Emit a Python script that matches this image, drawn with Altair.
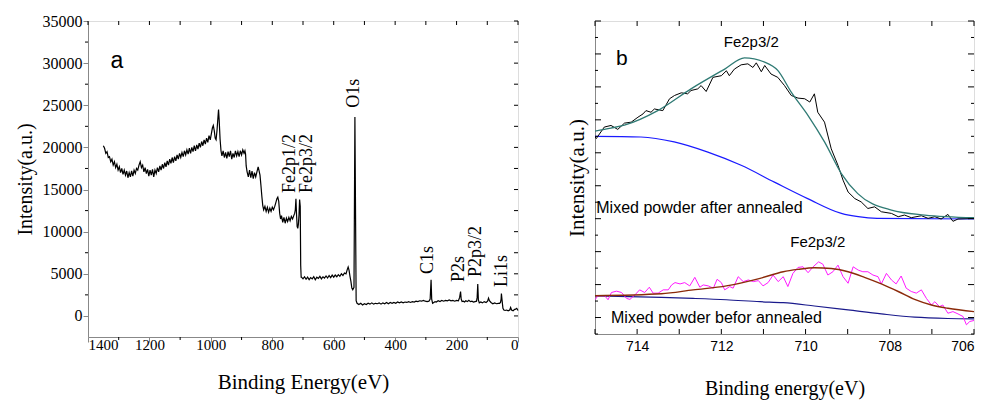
import altair as alt
import pandas as pd

# ---------------- Panel a: XPS survey spectrum ----------------
survey_energy = [
    1350, 1346, 1342, 1338, 1334, 1330, 1326, 1322, 1318, 1314, 1310, 1306, 1302, 1298, 1294, 1290,
    1286, 1282, 1278, 1274, 1270, 1266, 1262, 1258, 1254, 1250, 1246, 1242, 1238, 1234, 1230, 1226,
    1222, 1218, 1214, 1210, 1206, 1202, 1198, 1194, 1190, 1186, 1182, 1178, 1174, 1170, 1166, 1162,
    1158, 1154, 1150, 1146, 1142, 1138, 1134, 1130, 1126, 1122, 1118, 1114, 1110, 1106, 1102, 1098,
    1094, 1090, 1086, 1082, 1078, 1074, 1070, 1066, 1062, 1058, 1054, 1050, 1046, 1042, 1038, 1034,
    1030, 1026, 1022, 1018, 1014, 1010, 1006, 1002, 998, 995, 992, 989, 986, 983, 980, 977,
    975, 973, 970, 967, 964, 960, 956, 952, 948, 944, 940, 936, 932, 928, 924, 920,
    916, 912, 908, 904, 900, 896, 892, 889, 887, 885, 882, 878, 874, 870, 866, 862,
    858, 854, 850, 846, 843, 840, 837, 834, 831, 828, 824, 820, 816, 812, 808, 804,
    800, 796, 792, 788, 785, 782, 779, 776, 773, 770, 766, 762, 758, 754, 750, 746,
    742, 738, 734, 730, 727, 725, 723, 721, 719, 717, 715, 713, 711, 709, 707.5, 706,
    705, 700, 695, 690, 685, 680, 675, 670, 665, 660, 655, 650, 645, 640, 635, 630,
    625, 620, 615, 610, 605, 600, 595, 590, 585, 580, 575, 570, 565, 560, 556, 553,
    550, 547, 544, 541, 538, 535, 534, 531, 527, 524, 518, 512, 506, 500, 494, 488,
    482, 476, 470, 464, 458, 452, 446, 440, 434, 428, 422, 416, 410, 404, 398, 392,
    386, 380, 374, 368, 362, 356, 350, 344, 338, 332, 326, 320, 314, 308, 302, 296,
    290, 286, 283, 281, 278, 274, 270, 266, 260, 254, 248, 242, 236, 230, 224, 218,
    212, 206, 200, 194, 190, 187, 185, 182, 178, 174, 170, 165, 160, 155, 150, 145,
    140, 135, 133, 131, 129, 126, 121, 116, 110, 104, 99, 96, 93, 88, 82, 76,
    70, 64, 60, 57, 55, 54, 52, 49, 46, 42, 37, 32, 27, 24, 21, 16,
    12, 8, 4, 0,
]
survey_counts = [
    20200, 19900, 19300, 19500, 18800, 18900, 18300, 18600, 17900, 18300, 17600, 18000, 17300, 17700, 17000, 17500,
    16800, 17300, 16700, 17200, 16400, 17000, 16500, 17200, 16600, 17300, 16900, 17500, 17300, 17900, 18300, 17600,
    17900, 17100, 17600, 16900, 17400, 16600, 17300, 16700, 17400, 16500, 17300, 16900, 17600, 17100, 17800, 17300,
    18000, 17500, 18200, 17700, 18400, 17900, 18600, 18100, 18800, 18200, 18900, 18400, 19100, 18600, 19300, 18800,
    19400, 18900, 19600, 19100, 19700, 19200, 19900, 19300, 20000, 19500, 20200, 19600, 20300, 19800, 20500, 20000,
    20700, 20200, 20900, 20400, 21100, 20600, 21400, 20900, 21700, 22300, 22600, 22000, 21100, 20900, 22000, 23500,
    24500, 23300, 21000, 19600, 19000, 19600, 18800, 19400, 18700, 19500, 18900, 19600, 18600, 19300, 18800, 19600,
    19000, 19500, 18900, 19600, 19100, 19700, 19300, 19600, 19200, 17800, 17100, 16500, 17300, 16400, 17200, 16300,
    17000, 16500, 17100, 17700, 17200, 16700, 15500, 14200, 13100, 12600, 13000, 12400, 12900, 12300, 12800, 12400,
    12900, 12600, 13000, 13500, 13900, 14100, 13600, 12200, 11500, 11900, 11100, 11700, 11000, 11600, 11200, 11700,
    11300, 11800, 11500, 11900, 12200, 12600, 13900, 12000, 10600, 10400, 10900, 12000, 13800, 13000, 6000, 4600,
    4600, 4400, 4650, 4350, 4600, 4300, 4550, 4400, 4650, 4300, 4600, 4450, 4700, 4400, 4650, 4500,
    4750, 4500, 4800, 4550, 4850, 4600, 4850, 4650, 4900, 4700, 5000, 4800, 5100, 5000, 5500, 5800,
    5400, 4700, 4100, 3300, 3100, 3300, 3400, 23600, 1800, 1500, 1350, 1500, 1300, 1450, 1350, 1500,
    1400, 1550, 1400, 1500, 1450, 1550, 1400, 1550, 1450, 1600, 1450, 1600, 1500, 1600, 1500, 1650,
    1550, 1650, 1550, 1650, 1600, 1700, 1600, 1700, 1650, 1750, 1700, 1800, 1750, 1850, 1750, 1700,
    1750, 2000, 4300, 2000, 1500, 1600, 1700, 1650, 1800, 1700, 1850, 1750, 1850, 1800, 1900, 1800,
    1850, 1750, 1850, 1800, 2200, 2900, 2000, 1700, 1750, 1650, 1800, 1700, 1850, 1700, 1750, 1650,
    1700, 1750, 2200, 3800, 1900, 1550, 1650, 1550, 1700, 1600, 1750, 2100, 1800, 1600, 1450, 1550,
    1450, 1500, 1500, 1600, 2000, 2650, 1900, 900, 700, 650, 700, 600, 700, 1000, 700, 600,
    750, 800, 900, 650,
]

a_peak_labels = ["Fe2p1/2", "Fe2p3/2", "O1s", "C1s", "P2s", "P2p3/2", "Li1s"]
a_peak_label_energy = [741.8, 686.5, 533.6, 292.8, 192, 136.7, 52]
a_peak_label_counts = [14590, 14590, 24700, 4980, 4030, 4630, 3440]

a_x_major = [1400, 1200, 1000, 800, 600, 400, 200, 0]
a_x_minor = [1300, 1100, 900, 700, 500, 300, 100]
a_x_all = [1400, 1300, 1200, 1100, 1000, 900, 800, 700, 600, 500, 400, 300, 200, 100, 0]
a_y_major = [0, 5000, 10000, 15000, 20000, 25000, 30000, 35000]
a_y_minor = [2500, 7500, 12500, 17500, 22500, 27500, 32500]
a_y_all = [0, 2500, 5000, 7500, 10000, 12500, 15000, 17500, 20000, 22500, 25000, 27500, 30000, 32500, 35000]

# ---------------- Panel b: Fe2p3/2 high resolution ----------------
after_energy = [715.0, 714.97, 714.78, 714.62, 714.46, 714.30, 714.14, 713.98, 713.86, 713.79, 713.67, 713.59,
                713.39, 713.23, 713.11, 712.95, 712.80, 712.72, 712.56, 712.48, 712.36, 712.20, 712.00, 711.88,
                711.81, 711.69, 711.53, 711.37, 711.25, 711.17, 711.05, 710.97, 710.82, 710.66, 710.50, 710.34,
                710.18, 710.02, 709.90, 709.79, 709.71, 709.55, 709.39, 709.23, 709.11, 708.99, 708.83, 708.68,
                708.52, 708.36, 708.20, 707.96, 707.80, 707.65, 707.49, 707.25, 707.09, 706.93, 706.78, 706.62,
                706.50, 706.38, 706.0]
after_counts = [5.48, 5.43, 5.78, 5.83, 5.71, 5.90, 5.93, 6.08, 6.18, 6.28, 6.23, 6.33,
                6.28, 6.64, 6.74, 6.82, 6.79, 6.89, 6.94, 7.04, 6.86, 7.29, 7.34, 7.49,
                7.34, 7.54, 7.67, 7.70, 7.59, 7.73, 7.46, 7.65, 7.39, 7.29, 7.04, 6.74,
                6.66, 6.64, 6.54, 6.79, 6.23, 5.93, 5.12, 4.62, 4.17, 3.81, 3.61, 3.51,
                3.31, 3.36, 3.21, 3.16, 3.06, 3.11, 3.03, 3.09, 3.01, 3.06, 2.99, 3.13,
                2.92, 2.99, 3.01]
after_fit_energy = [715.0, 714.62, 714.30, 713.51, 712.72, 711.92, 711.45, 710.97, 710.66, 710.34, 709.94,
                    709.55, 709.15, 708.76, 707.96, 707.17, 706.0]
after_fit_counts = [5.66, 5.75, 5.84, 6.28, 6.94, 7.54, 7.88, 7.75, 7.50, 6.84, 6.13,
                    5.33, 4.37, 3.76, 3.26, 3.11, 3.03]
after_bg_energy = [715.0, 713.91, 713.12, 712.32, 711.53, 710.74, 709.95, 709.15, 708.75, 708.30, 706.0]
after_bg_counts = [5.50, 5.48, 5.33, 5.02, 4.62, 4.11, 3.61, 3.16, 3.06, 3.01, 2.99]

before_energy = [715.0, 714.93, 714.77, 714.69, 714.61, 714.49, 714.37, 714.25, 714.17, 714.05, 713.94, 713.82,
                 713.71, 713.62, 713.50, 713.38, 713.26, 713.18, 713.10, 712.98, 712.87, 712.75, 712.63, 712.51,
                 712.43, 712.31, 712.19, 712.10, 712.00, 711.92, 711.80, 711.72, 711.60, 711.48, 711.36, 711.24,
                 711.12, 711.01, 710.89, 710.77, 710.65, 710.53, 710.42, 710.30, 710.18, 710.06, 709.94, 709.82,
                 709.69, 709.59, 709.47, 709.35, 709.23, 709.11, 708.99, 708.87, 708.75, 708.64, 708.52, 708.40,
                 708.28, 708.20, 708.08, 707.96, 707.85, 707.73, 707.61, 707.49, 707.37, 707.25, 707.13, 707.01,
                 706.93, 706.82, 706.74, 706.62, 706.50, 706.38, 706.26, 706.18, 706.10, 706.0]
before_counts = [0.54, 0.66, 0.66, 0.54, 0.76, 0.80, 0.76, 0.58, 0.55, 0.69, 0.84, 0.76,
                 0.92, 0.74, 0.74, 0.84, 0.84, 0.99, 1.06, 1.02, 1.06, 0.96, 1.22, 0.92,
                 0.99, 0.96, 0.89, 1.16, 1.06, 0.84, 0.94, 0.89, 1.24, 1.09, 1.14, 1.09,
                 1.12, 0.96, 1.06, 1.29, 1.09, 1.24, 0.94, 1.34, 1.52, 1.54, 1.36, 1.54,
                 1.69, 1.62, 1.29, 1.39, 1.59, 1.24, 1.04, 1.54, 1.44, 1.39, 1.39, 1.29,
                 1.24, 1.02, 1.34, 1.14, 1.02, 1.26, 0.89, 0.79, 0.74, 0.84, 0.58, 0.38,
                 0.48, 0.33, 0.38, 0.13, 0.18, 0.11, 0.03, -0.22, -0.12, -0.09]
before_fit_energy = [715.0, 713.42, 712.67, 711.88, 711.08, 710.53, 710.18, 709.79, 709.39, 708.99, 708.60,
                     708.20, 707.80, 707.41, 707.01, 706.62, 706.0]
before_fit_counts = [0.66, 0.72, 0.84, 0.96, 1.19, 1.39, 1.46, 1.51, 1.49, 1.39, 1.22,
                     1.02, 0.79, 0.55, 0.38, 0.28, 0.18]
before_bg_energy = [715.0, 713.42, 712.67, 711.88, 711.08, 710.53, 709.79, 708.99, 708.20, 707.41, 706.62, 706.0]
before_bg_counts = [0.66, 0.61, 0.58, 0.54, 0.48, 0.45, 0.35, 0.23, 0.11, 0.01, -0.03, -0.04]

b_center_labels = ["Fe2p3/2", "Fe2p3/2"]
b_center_energy = [711.29, 709.71]
b_center_counts = [8.2, 2.15]
b_left_labels = ["Mixed powder after annealed", "Mixed powder befor annealed"]
b_left_energy = [714.97, 714.62]
b_left_counts = [3.18, -0.17]

b_x_labels = [714, 712, 710, 708, 706]
b_x_all = [715, 714, 713, 712, 711, 710, 709, 708, 707, 706]
b_y_major = [0, 1, 2, 3, 4, 5, 6, 7, 8, 9]
b_y_minor = [-0.5, 0.5, 1.5, 2.5, 3.5, 4.5, 5.5, 6.5, 7.5, 8.5]

SERIF = "Liberation Serif"
SANS = "Liberation Sans"

# ---------------- build panel a ----------------
AW, AH = 430, 316
xs_a = alt.Scale(domain=[0, 1400], reverse=True, nice=False, zero=False)
ys_a = alt.Scale(domain=[-2500, 35000], nice=False, zero=False)
ax_a = alt.Axis(values=a_x_major, title="Binding Energy(eV)", format="d",
                tickSize=5, labelPadding=-5, titlePadding=19,
                labelFont=SERIF, labelFontSize=15, titleFont=SERIF, titleFontSize=21,
                titleFontWeight="normal", grid=False)
ay_a = alt.Axis(values=a_y_major, title="Intensity(a.u.)", format="d",
                tickSize=5, labelPadding=1, titlePadding=7,
                labelFont=SERIF, labelFontSize=16, titleFont=SERIF, titleFontSize=20,
                titleFontWeight="normal", grid=False)
XA = alt.X("energy:Q", scale=xs_a, axis=ax_a)
YA = alt.Y("counts:Q", scale=ys_a, axis=ay_a)

survey_df = pd.DataFrame({"energy": survey_energy, "counts": survey_counts})
a_line = alt.Chart(survey_df).mark_line(color="black", strokeWidth=1.2).encode(x=XA, y=YA)

lab_df = pd.DataFrame({"energy": a_peak_label_energy, "counts": a_peak_label_counts, "label": a_peak_labels})
a_labels = alt.Chart(lab_df).mark_text(angle=270, align="left", baseline="middle",
                                       font=SERIF, fontSize=18, color="black").encode(
    x=XA, y=YA, text="label:N")
a_letter = alt.Chart(pd.DataFrame({"energy": [1327], "counts": [29420], "label": ["a"]})).mark_text(
    align="left", baseline="alphabetic", font=SANS, fontSize=23, color="black").encode(
    x=XA, y=YA, text="label:N")

# minor / mirrored ticks
a_bottom_minor = alt.Chart(pd.DataFrame({"energy": a_x_minor})).mark_rule(color="black", strokeWidth=1).encode(
    x=XA, y=alt.value(AH), y2=alt.value(AH + 3))
a_top_ticks = alt.Chart(pd.DataFrame({"energy": a_x_all})).mark_rule(color="black", strokeWidth=1).encode(
    x=XA, y=alt.value(0), y2=alt.value(4))
a_left_minor = alt.Chart(pd.DataFrame({"counts": a_y_minor})).mark_rule(color="black", strokeWidth=1).encode(
    y=YA, x=alt.value(-3), x2=alt.value(0))
a_right_ticks = alt.Chart(pd.DataFrame({"counts": a_y_all})).mark_rule(color="black", strokeWidth=1).encode(
    y=YA, x=alt.value(AW - 4), x2=alt.value(AW))

panel_a = alt.layer(a_line, a_labels, a_letter, a_bottom_minor, a_top_ticks, a_left_minor, a_right_ticks).properties(
    width=AW, height=AH)

# ---------------- build panel b ----------------
BW, BH = 379, 313
xs_b = alt.Scale(domain=[706, 715], reverse=True, nice=False, zero=False)
ys_b = alt.Scale(domain=[-0.5, 9], nice=False, zero=False)
ax_b = alt.Axis(values=b_x_labels, title="Binding energy(eV)", format="d",
                ticks=False, labelPadding=5, titlePadding=25,
                labelFont=SANS, labelFontSize=14, titleFont=SERIF, titleFontSize=20,
                titleFontWeight="normal", grid=False)
ay_b = alt.Axis(labels=False, ticks=False, title="Intensity(a.u.)", titlePadding=8,
                titleFont=SERIF, titleFontSize=21, titleFontWeight="normal", grid=False)
XB = alt.X("energy:Q", scale=xs_b, axis=ax_b)
YB = alt.Y("counts:Q", scale=ys_b, axis=ay_b)


def b_line(energy, counts, color, width, interp="linear"):
    df = pd.DataFrame({"energy": energy, "counts": counts})
    return alt.Chart(df).mark_line(color=color, strokeWidth=width, interpolate=interp, clip=True).encode(
        x=XB, y=YB)


b_layers = [
    b_line(after_bg_energy, after_bg_counts, "#1a1aff", 1.2, "monotone"),
    b_line(after_energy, after_counts, "black", 1.0),
    b_line(after_fit_energy, after_fit_counts, "#2f7a74", 1.3, "monotone"),
    b_line(before_bg_energy, before_bg_counts, "#1a1a8c", 1.2, "monotone"),
    b_line(before_energy, before_counts, "#ff1aff", 1.0),
    b_line(before_fit_energy, before_fit_counts, "#8b2a0a", 1.4, "monotone"),
]

bc_df = pd.DataFrame({"energy": b_center_energy, "counts": b_center_counts, "label": b_center_labels})
b_layers.append(alt.Chart(bc_df).mark_text(align="center", baseline="alphabetic", font=SANS, fontSize=15,
                                           color="black").encode(x=XB, y=YB, text="label:N"))
bl_df = pd.DataFrame({"energy": b_left_energy, "counts": b_left_counts, "label": b_left_labels})
b_layers.append(alt.Chart(bl_df).mark_text(align="left", baseline="alphabetic", font=SANS, fontSize=16,
                                           color="black").encode(x=XB, y=YB, text="label:N"))
b_layers.append(alt.Chart(pd.DataFrame({"energy": [714.5], "counts": [7.65], "label": ["b"]})).mark_text(
    align="left", baseline="alphabetic", font=SANS, fontSize=21, color="black").encode(
    x=XB, y=YB, text="label:N"))

# inward ticks for panel b
b_layers.append(alt.Chart(pd.DataFrame({"energy": b_x_all})).mark_rule(color="black").encode(
    x=XB, y=alt.value(BH - 5), y2=alt.value(BH)))
b_layers.append(alt.Chart(pd.DataFrame({"energy": b_x_all})).mark_rule(color="black").encode(
    x=XB, y=alt.value(0), y2=alt.value(5)))
b_layers.append(alt.Chart(pd.DataFrame({"counts": b_y_major})).mark_rule(color="black").encode(
    y=YB, x=alt.value(0), x2=alt.value(6)))
b_layers.append(alt.Chart(pd.DataFrame({"counts": b_y_minor})).mark_rule(color="black").encode(
    y=YB, x=alt.value(0), x2=alt.value(3)))
b_layers.append(alt.Chart(pd.DataFrame({"counts": b_y_major})).mark_rule(color="black").encode(
    y=YB, x=alt.value(BW - 6), x2=alt.value(BW)))
b_layers.append(alt.Chart(pd.DataFrame({"counts": b_y_minor})).mark_rule(color="black").encode(
    y=YB, x=alt.value(BW - 3), x2=alt.value(BW)))

panel_b = alt.layer(*b_layers).properties(width=BW, height=BH)

chart = alt.hconcat(panel_a, panel_b, spacing=77, bounds="flush").properties(
    padding={"left": 14, "top": 12, "right": 5, "bottom": 5}
).configure_view(stroke="black", strokeWidth=1).configure_axis(
    domainColor="black", tickColor="black", labelColor="black", titleColor="black",
    titleFontWeight="normal", domainWidth=1,
).configure(background="white")

chart.save("out.html", embed_options={"renderer": "svg", "actions": False})
